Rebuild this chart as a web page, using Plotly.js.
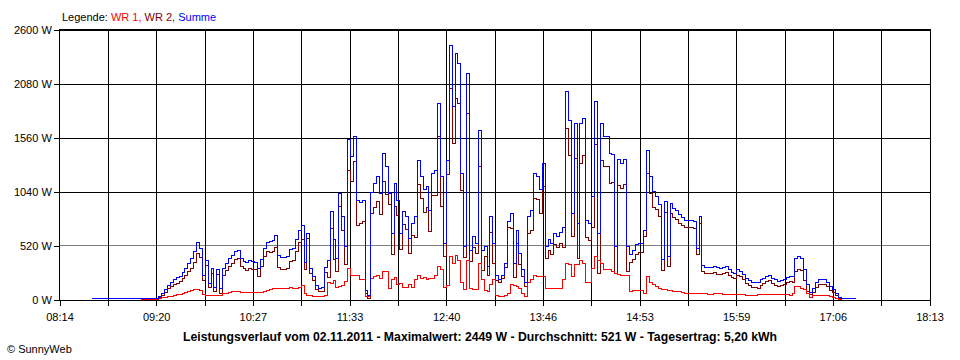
<!DOCTYPE html>
<html><head><meta charset="utf-8">
<script src="https://cdn.plot.ly/plotly-3.0.1.min.js"></script>
<style>
html,body{margin:0;padding:0;background:#fff}
#chart{width:960px;height:360px}
#chart .scatterlayer path, #chart .shapelayer path{shape-rendering:crispEdges}
</style>
</head><body><div id="chart"></div>
<script>
const times = [
"08:36","08:38","08:40","08:42","08:44","08:46","08:48","08:50","08:52","08:54","08:56","08:58",
"09:00","09:02","09:04","09:06","09:08","09:10","09:12","09:14","09:16","09:18","09:20","09:22","09:24","09:26","09:28","09:30","09:32","09:34","09:36","09:38","09:40","09:42","09:44","09:46","09:48","09:50","09:52","09:54","09:56","09:58",
"10:00","10:02","10:04","10:06","10:08","10:10","10:12","10:14","10:16","10:18","10:20","10:22","10:24","10:26","10:28","10:30","10:32","10:34","10:36","10:38","10:40","10:42","10:44","10:46","10:48","10:50","10:52","10:54","10:56","10:58",
"11:00","11:02","11:04","11:06","11:08","11:10","11:12","11:14","11:16","11:18","11:20","11:22","11:24","11:26","11:28","11:30","11:32","11:34","11:36","11:38","11:40","11:42","11:44","11:46","11:48","11:50","11:52","11:54","11:56","11:58",
"12:00","12:02","12:04","12:06","12:08","12:10","12:12","12:14","12:16","12:18","12:20","12:22","12:24","12:26","12:28","12:30","12:32","12:34","12:36","12:38","12:40","12:42","12:44","12:46","12:48","12:50","12:52","12:54","12:56","12:58",
"13:00","13:02","13:04","13:06","13:08","13:10","13:12","13:14","13:16","13:18","13:20","13:22","13:24","13:26","13:28","13:30","13:32","13:34","13:36","13:38","13:40","13:42","13:44","13:46","13:48","13:50","13:52","13:54","13:56","13:58",
"14:00","14:02","14:04","14:06","14:08","14:10","14:12","14:14","14:16","14:18","14:20","14:22","14:24","14:26","14:28","14:30","14:32","14:34","14:36","14:38","14:40","14:42","14:44","14:46","14:48","14:50","14:52","14:54","14:56","14:58",
"15:00","15:02","15:04","15:06","15:08","15:10","15:12","15:14","15:16","15:18","15:20","15:22","15:24","15:26","15:28","15:30","15:32","15:34","15:36","15:38","15:40","15:42","15:44","15:46","15:48","15:50","15:52","15:54","15:56","15:58",
"16:00","16:02","16:04","16:06","16:08","16:10","16:12","16:14","16:16","16:18","16:20","16:22","16:24","16:26","16:28","16:30","16:32","16:34","16:36","16:38","16:40","16:42","16:44","16:46","16:48","16:50","16:52","16:54","16:56","16:58",
"17:00","17:02","17:04","17:06","17:08","17:10","17:12","17:14","17:16","17:18","17:20","17:22"
];

const summe = [
10,10,10,10,10,10,10,10,10,10,
10,10,10,10,10,10,10,18,18,18,
18,18,18,35,60,100,140,165,195,212,
230,265,305,350,395,465,555,500,240,380,
160,300,120,290,110,300,350,395,430,470,
480,400,375,360,380,370,365,300,390,500,
555,560,575,625,430,410,405,420,490,500,
578,674,722,360,640,300,225,140,115,120,
310,385,850,580,400,1030,800,520,1550,1380,
1570,960,940,960,96,40,1040,1120,1190,1030,
1410,1290,1030,640,1120,960,645,850,800,590,
740,800,1348,1190,1060,1090,866,1220,1250,1890,
1190,548,1348,2449,1860,2375,2280,1220,513,2185,
481,610,545,1637,480,513,320,802,545,240,
200,240,355,754,835,355,674,450,290,164,
802,866,1220,1190,1060,1316,513,578,545,645,
610,650,700,2006,1730,835,1700,740,1700,1750,
770,740,1000,1910,645,1700,1573,1573,1412,1400,
513,1350,1316,1350,513,440,480,530,545,545,
674,1444,1190,1043,1000,920,390,945,420,930,
880,860,820,790,770,770,770,760,500,800,
330,310,310,315,320,310,300,315,320,290,
265,260,290,275,245,210,185,170,164,164,
193,210,225,240,210,193,180,190,200,215,
225,230,404,420,400,290,150,70,110,164,
193,200,195,170,130,100,60,20,10,10,
10,10,10,10
];

const wr1 = [
0,0,0,0,0,0,0,0,0,0,
0,0,0,0,0,0,0,3,3,3,
3,3,3,10,20,25,30,35,45,50,
55,62,70,80,95,100,105,90,55,45,
42,45,40,40,45,60,65,70,78,80,
78,75,75,75,75,75,72,70,70,80,
90,100,112,115,115,115,115,115,118,115,
115,120,135,67,45,40,35,35,30,35,
48,164,160,190,125,130,135,180,300,240,
240,240,200,200,30,30,210,225,240,210,
270,270,115,200,220,150,160,125,125,145,
120,200,240,210,220,195,205,210,240,320,
290,125,135,417,350,433,385,164,100,385,
110,100,100,356,200,90,80,150,193,48,
35,30,45,60,145,140,130,110,60,30,
164,193,240,225,225,225,110,106,106,106,
106,106,193,356,340,225,340,340,385,356,
164,164,300,417,385,356,290,290,290,270,
260,250,240,240,240,80,90,90,90,90,
60,225,164,150,130,115,105,100,95,95,
85,85,80,70,67,67,67,67,65,60,
60,58,55,55,58,60,58,55,55,55,
52,52,50,50,50,48,48,48,48,50,
50,50,50,50,50,50,50,50,50,50,
48,60,128,128,115,100,67,20,40,48,
48,48,48,40,35,25,15,5,0,0,
0,0,0,0
];

const wr2 = [
10,10,10,10,10,10,10,10,10,10,
10,10,10,10,10,10,10,15,15,15,
15,15,15,25,40,75,110,130,150,162,
175,203,235,270,300,365,450,410,185,335,
118,255,80,250,65,240,285,325,352,390,
402,325,300,285,305,295,293,230,320,420,
465,460,463,510,315,295,290,305,372,385,
463,554,587,293,595,260,190,105,85,85,
262,221,690,390,275,900,665,340,1250,1140,
1330,720,740,760,66,10,830,895,950,820,
1140,1020,915,440,900,810,485,725,675,445,
620,600,1108,980,840,895,661,1010,1010,1570,
900,423,1213,2032,1510,1942,1895,1056,413,1800,
371,510,445,1281,280,423,240,652,352,192,
165,210,310,694,690,215,544,340,230,134,
638,673,980,965,835,1091,403,472,439,539,
504,544,507,1650,1390,610,1360,400,1315,1394,
606,576,700,1493,260,1344,1283,1283,1122,1130,
253,1100,1076,1110,273,360,390,440,455,455,
614,1219,1026,893,870,805,285,845,325,835,
795,775,740,720,703,703,703,693,435,740,
270,252,255,260,262,250,242,260,265,235,
213,208,240,225,195,162,137,122,116,114,
143,160,175,190,160,143,130,140,150,165,
177,170,276,292,285,190,83,50,70,116,
145,152,147,130,95,75,45,15,10,10,
10,10,10,10
];

const xTickLabels = ["08:14","09:20","10:27","11:33","12:40","13:46","14:53","15:59","17:06","18:13"];
const yTickValues = [0,520,1040,1560,2080,2600];
const yTickLabels = ["0 W","520 W","1040 W","1560 W","2080 W","2600 W"];
const averageW = 521;
const seriesNames = ["WR 1","WR 2","Summe"];
const seriesColors = ["#ff0000","#800000","#0000ff"];
const titleText = "Leistungsverlauf vom 02.11.2011 - Maximalwert: 2449 W - Durchschnitt: 521 W - Tagesertrag: 5,20 kWh";
const creditText = "© SunnyWeb";

function toMin(s){ const p = s.split(":"); return (+p[0])*60 + (+p[1]); }
const xMin = times.map(toMin);
const first = toMin(xTickLabels[0]), last = toMin(xTickLabels[xTickLabels.length-1]);
const nGrid = (xTickLabels.length-1)*2;
const step = (last-first)/nGrid;
const tickvals = [], ticktext = [];
for (let k=0;k<=nGrid;k++){ tickvals.push(first+k*step); ticktext.push(k%2===0 ? xTickLabels[k/2] : ""); }

const FONT = "Liberation Sans, Arial, sans-serif";
function trace(y, idx){
  return {x:xMin, y:y, type:"scatter", mode:"lines", name:seriesNames[idx],
    line:{color:seriesColors[idx], width:1, shape:"hv"}, hoverinfo:"skip", showlegend:false};
}
const data = [trace(wr2,1), trace(wr1,0), trace(summe,2)];

const legendHtml = "Legende: " + seriesNames.map((n,i)=>"<span style='color:"+seriesColors[i]+"'>"+n+(i<seriesNames.length-1?",":"")+"</span>").join(" ");

// horizontal grid lines (shapes below traces); the one hidden by the average line is left out
const yMax = yTickValues[yTickValues.length-1];
const onePixel = yMax/270;
const shapes = yTickValues.filter(v=>Math.abs(v-averageW) > onePixel).map(v=>({type:"line", xref:"paper", x0:0, x1:1, yref:"y", y0:v, y1:v,
  line:{color:"#000000", width:1}, layer:"below"}));
shapes.push({type:"line", xref:"paper", x0:0, x1:1, yref:"y", y0:averageW, y1:averageW,
  line:{color:"#808080", width:1}, layer:"below"});

const layout = {
  width:960, height:360,
  margin:{l:60, r:30, t:30, b:60, pad:0},
  paper_bgcolor:"#ffffff", plot_bgcolor:"#ffffff",
  font:{family:FONT, size:11, color:"#000"},
  showlegend:false,
  xaxis:{range:[first,last], tickmode:"array", tickvals:tickvals, ticktext:ticktext,
    showgrid:true, gridcolor:"#000", gridwidth:1, zeroline:false,
    showline:true, mirror:true, linecolor:"#000", linewidth:1,
    ticks:"outside", ticklen:5, tickcolor:"#000", tickwidth:1, ticklabelstandoff:2,
    tickfont:{family:FONT, size:11, color:"#000"}, fixedrange:true},
  yaxis:{range:[0,yMax], tickmode:"array", tickvals:yTickValues, ticktext:yTickLabels,
    showgrid:false, zeroline:false,
    showline:true, mirror:true, linecolor:"#000", linewidth:1,
    ticks:"outside", ticklen:5, tickcolor:"#000", tickwidth:1,
    tickfont:{family:FONT, size:11, color:"#000"}, fixedrange:true},
  shapes:shapes,
  annotations:[
    {xref:"paper", yref:"paper", x:0, y:1, xanchor:"left", yanchor:"middle", yshift:13,
     text:legendHtml, showarrow:false, font:{family:FONT, size:11, color:"#000"}},
    {xref:"paper", yref:"paper", x:(480-60)/870, y:0, xanchor:"center", yanchor:"middle", yshift:-37,
     text:"<b>"+titleText+"</b>", showarrow:false, font:{family:FONT, size:12.25, color:"#000"}},
    {xref:"paper", yref:"paper", x:(5-60)/870, y:0, xanchor:"left", yanchor:"middle", yshift:-49,
     text:creditText, showarrow:false, font:{family:FONT, size:11, color:"#000"}}
  ]
};
Plotly.newPlot("chart", data, layout, {staticPlot:true, displayModeBar:false});
</script></body></html>
